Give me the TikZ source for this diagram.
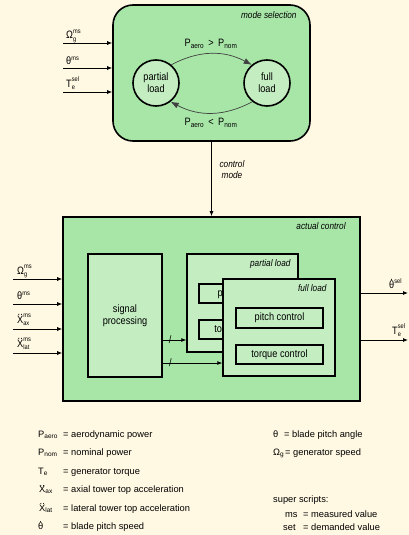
\documentclass[tikz,border=0pt]{standalone}
\usepackage{fontspec}
\setmainfont{Liberation Sans}
\newfontfamily\condf{Liberation Sans}[FakeStretch=0.86]
\usetikzlibrary{arrows.meta}

\definecolor{cream}{HTML}{FFF9E3}
\definecolor{boxgreen}{HTML}{A8E6A8}
\definecolor{innergreen}{HTML}{C4EEC2}

\newcommand{\fnode}{\condf\fontsize{10.7}{12}\selectfont}
\newcommand{\flab}{\condf\fontsize{9.6}{11}\selectfont\itshape}
\newcommand{\fleg}{\fontsize{9.3}{11}\selectfont}
\newcommand{\fsub}{\fontsize{6.6}{7}\selectfont}
\newcommand{\ssc}[3]{#1\rlap{\raisebox{-0.22em}{\fsub #2}}\raisebox{0.52em}{\fsub #3}}
\newcommand{\ddX}{\ooalign{X\cr\hidewidth\raisebox{0.66em}{..}\hidewidth\cr}}
\newcommand{\dth}{\ooalign{θ\cr\hidewidth\raisebox{0.7em}{.}\hidewidth\cr}}

\begin{document}
\begin{tikzpicture}[
    x=1pt, y=-1pt,
    >={Latex[length=5pt,width=4pt]},
    every node/.style={font=\fnode},
    grnbox/.style={draw, line width=1.6pt, fill=boxgreen, inner sep=0pt},
    inbox/.style={draw, line width=1.4pt, fill=innergreen, inner sep=0pt, align=center},
    state/.style={circle, draw, line width=1.6pt, fill=innergreen,
                  minimum size=46pt, inner sep=0pt, align=center},
    boxlabel/.style={font=\flab, anchor=north east, inner sep=0pt},
    sig/.style={->, line width=0.8pt},
    trans/.style={-{Latex[length=8pt,width=6pt]}, line width=0.7pt, black!75},
    slash/.style={inner sep=0pt},
    sym/.style={anchor=base west, inner sep=0pt},
    leg/.style={anchor=base west, inner sep=0pt, font=\fleg}
  ]

  \fill[cream] (0,0) rectangle (409,535);
  \useasboundingbox (0,0) rectangle (409,535);

  %% ── Mode selection ──
  \node[grnbox, rounded corners=20pt, minimum width=197pt, minimum height=136pt]
    (mode) at (211.5,73) {};
  \node[boxlabel] (modelab) at ([xshift=-14pt,yshift=-7pt]mode.north east) {mode selection};

  \node[state] (part) at (156,83) {partial\\load};
  \node[state] (full) at (267,83) {full\\load};
  \draw[trans] (part.50) to[bend left=28] (full.130);
  \draw[trans] (full.232) to[bend left=28] (part.308);
  \node (gt) at (211,44) {P\textsubscript{aero} \,>\, P\textsubscript{nom}};
  \node (lt) at (211,123) {P\textsubscript{aero} \,<\, P\textsubscript{nom}};

  \coordinate (mi1) at (63,43);
  \coordinate (mi2) at (63,68);
  \coordinate (mi3) at (63,92);
  \draw[sig] (mi1) -- (mi1 -| mode.west);
  \draw[sig] (mi2) -- (mi2 -| mode.west);
  \draw[sig] (mi3) -- (mi3 -| mode.west);
  \node[sym] (mil1) at (66,39) {\ssc{Ω}{g}{ms}};
  \node[sym] (mil2) at (66,64) {θ\raisebox{0.3em}{\fsub ms}};
  \node[sym] (mil3) at (66,87) {\ssc{T}{e}{sel}};

  %% ── Actual control ──
  \node[grnbox, minimum width=297pt, minimum height=184pt] (act) at (211.5,309) {};
  \node[boxlabel] (actlab) at ([xshift=-15pt,yshift=-6pt]act.north east) {actual control};
  \draw[sig] (mode) -- (act);
  \node[font=\flab, align=center] (cmode) at (232,170) {control\\mode};

  \node[inbox, minimum width=74pt, minimum height=123pt] (sigp) at (125,315.5)
    {signal\\processing};

  \node[inbox, minimum width=111pt, minimum height=98pt] (pbox) at (242.5,303) {};
  \node[boxlabel] (plab) at ([xshift=-8pt,yshift=-6pt]pbox.north east) {partial load};
  \node[inbox, minimum width=87pt, minimum height=19pt] (ppitch) at (242.5,293.5) {pitch control};
  \node[inbox, minimum width=87pt, minimum height=19pt] (ptorq) at (242.5,329.5) {torque control};

  \node[inbox, minimum width=112pt, minimum height=97pt] (fbox) at (279,327.5) {};
  \node[boxlabel] (flab) at ([xshift=-9pt,yshift=-6pt]fbox.north east) {full load};
  \node[inbox, minimum width=87pt, minimum height=20pt] (fpitch) at (279.5,318) {pitch control};
  \node[inbox, minimum width=87pt, minimum height=19pt] (ftorq) at (279.5,354.5) {torque control};

  \coordinate (l1) at (0,340);
  \coordinate (l2) at (0,363);
  \draw[sig] (sigp.east |- l1) -- node[pos=0.32, slash] (s1) {/} (pbox.west |- l1);
  \draw[sig] (sigp.east |- l2) -- node[pos=0.13, slash] (s2) {/} (fbox.west |- l2);

  \coordinate (ai1) at (13,279);
  \coordinate (ai2) at (13,304);
  \coordinate (ai3) at (13,329);
  \coordinate (ai4) at (13,353);
  \draw[sig] (ai1) -- (ai1 -| act.west);
  \draw[sig] (ai2) -- (ai2 -| act.west);
  \draw[sig] (ai3) -- (ai3 -| act.west);
  \draw[sig] (ai4) -- (ai4 -| act.west);
  \node[sym] (ail1) at (17,274) {\ssc{Ω}{g}{ms}};
  \node[sym] (ail2) at (17,299) {θ\raisebox{0.3em}{\fsub ms}};
  \node[sym] (ail3) at (17,323) {\ssc{\ddX}{ax}{ms}};
  \node[sym] (ail4) at (17,347) {\ssc{\ddX}{lat}{ms}};

  \coordinate (ao1) at (408,293);
  \coordinate (ao2) at (408,340);
  \draw[sig] (ao1 -| act.east) -- (ao1);
  \draw[sig] (ao2 -| act.east) -- (ao2);
  \node[sym] (aol1) at (389,288) {\dth\raisebox{0.45em}{\fsub sel}};
  \node[sym] (aol2) at (392,334) {\ssc{T}{e}{sel}};

  %% ── Legend ──
  \node[leg] (k1) at (38,437)   {P\textsubscript{aero}};
  \node[leg] (d1) at (63,437)   {= aerodynamic power};
  \node[leg] (k2) at (38,455.5) {P\textsubscript{nom}};
  \node[leg] (d2) at (63,455.5) {= nominal power};
  \node[leg] (k3) at (38,474)   {T\textsubscript{e}};
  \node[leg] (d3) at (63,474)   {= generator torque};
  \node[leg] (k4) at (39,492.5) {\ddX\textsubscript{ax}};
  \node[leg] (d4) at (63,492.5) {= axial tower top acceleration};
  \node[leg] (k5) at (39,511)   {\ddX\textsubscript{lat}};
  \node[leg] (d5) at (63,511)   {= lateral tower top acceleration};
  \node[leg] (k6) at (38,529.5) {\dth};
  \node[leg] (d6) at (63,529.5) {= blade pitch speed};

  \node[leg] (k7) at (273,437)   {θ};
  \node[leg] (d7) at (284,437)   {= blade pitch angle};
  \node[leg] (k8) at (273,455.5) {Ω\textsubscript{g}};
  \node[leg] (d8) at (285,455.5) {= generator speed};
  \node[leg] (sup) at (273,502)  {super scripts:};
  \node[leg] (k9) at (285,517)   {ms};
  \node[leg] (d9) at (303,517)   {= measured value};
  \node[leg] (k10) at (283,530)  {set};
  \node[leg] (d10) at (303,530)  {= demanded value};

\end{tikzpicture}
\end{document}
